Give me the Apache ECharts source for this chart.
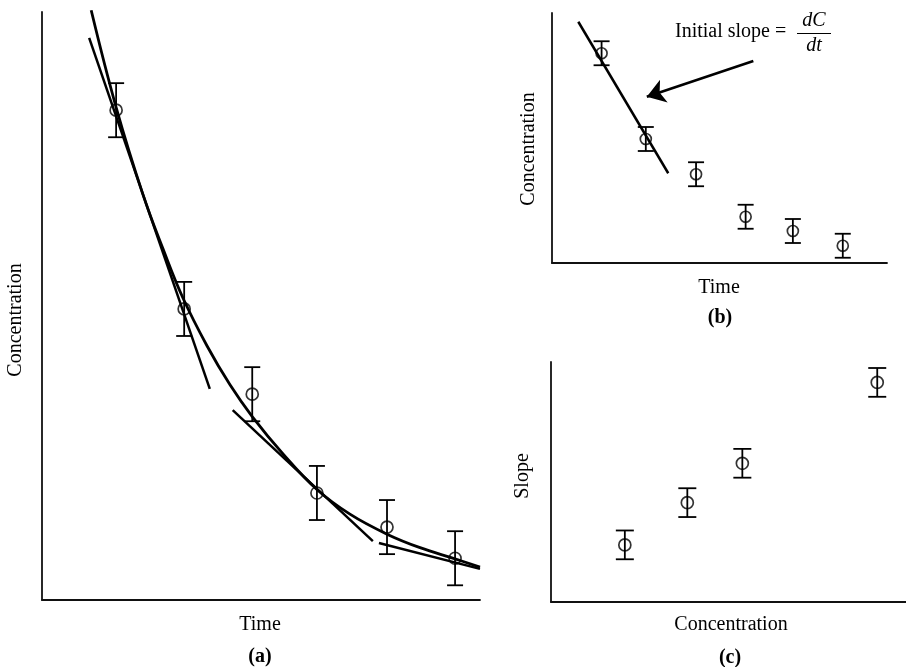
<!DOCTYPE html>
<html>
<head>
<meta charset="utf-8">
<script src="https://cdn.jsdelivr.net/npm/echarts@6/dist/echarts.min.js"></script>
<style>
html,body{margin:0;padding:0;background:#fff;}
#chart{width:906px;height:667px;}
</style>
</head>
<body>
<div id="chart"></div>
<script>
// ---------- Panel (a): concentration vs time with fitted curve and tangents ----------
const timeA = [1.10, 2.11, 3.12, 4.08, 5.12, 6.13];
const concA = [83.3, 49.5, 35.0, 18.2, 12.4, 7.1];
const errA  = [4.6, 4.6, 4.6, 4.6, 4.6, 4.6];

const curveT = [0.73, 1.10, 1.50, 1.80, 2.09, 2.45, 2.79, 3.12, 3.58, 4.08, 4.57, 5.12, 5.61, 6.13, 6.50];
const curveC = [100.3, 83.8, 68.9, 59.6, 51.4, 43.2, 36.6, 31.2, 24.8, 18.8, 14.6, 11.2, 8.9, 7.0, 5.6];

const tan1T = [0.70, 2.49], tan1C = [95.6, 35.9];
const tan2T = [2.83, 4.91], tan2C = [32.3, 10.0];
const tan3T = [5.00, 6.50], tan3C = [9.7, 5.3];

// ---------- Panel (b): initial slope ----------
const timeB = [1.48, 2.80, 4.30, 5.78, 7.19, 8.68];
const concB = [83.9, 49.6, 35.5, 18.5, 12.8, 6.9];
const errB  = [4.8, 4.8, 4.8, 4.8, 4.8, 4.8];
const tanBT = [0.785, 3.47], tanBC = [96.5, 35.9];
const arrowFrom = [6.01, 80.8], arrowTo = [2.83, 66.5];

// ---------- Panel (c): slope vs concentration ----------
const concC  = [2.08, 3.84, 5.39, 9.19];
const slopeC = [23.8, 41.4, 57.8, 91.5];
const errC   = [6.0, 6.0, 6.0, 6.0];

const FONT = 'Liberation Serif, Times New Roman, serif';
const zip = (a, b) => a.map((v, i) => [v, b[i]]);

function errorBarSeries(xi, xs, ys, es, cap) {
  return {
    type: 'custom', xAxisIndex: xi, yAxisIndex: xi, silent: true,
    data: xs.map((x, i) => [x, ys[i] - es[i], ys[i] + es[i]]),
    renderItem: function (params, api) {
      const lo = api.coord([api.value(0), api.value(1)]);
      const hi = api.coord([api.value(0), api.value(2)]);
      const st = { stroke: '#000', lineWidth: 1.8 };
      return { type: 'group', children: [
        { type: 'line', shape: { x1: lo[0], y1: lo[1], x2: hi[0], y2: hi[1] }, style: st },
        { type: 'line', shape: { x1: lo[0] - cap, y1: lo[1], x2: lo[0] + cap, y2: lo[1] }, style: st },
        { type: 'line', shape: { x1: hi[0] - cap, y1: hi[1], x2: hi[0] + cap, y2: hi[1] }, style: st }
      ]};
    }
  };
}
function circles(xi, xs, ys, size) {
  return {
    type: 'scatter', xAxisIndex: xi, yAxisIndex: xi, symbol: 'circle', symbolSize: size,
    data: zip(xs, ys),
    itemStyle: { color: 'rgba(0,0,0,0)', borderColor: '#000', borderWidth: 1.7 }
  };
}
function seg(xi, xs, ys, w, smooth) {
  return {
    type: 'line', xAxisIndex: xi, yAxisIndex: xi, data: zip(xs, ys), showSymbol: false,
    smooth: smooth || false, lineStyle: { color: '#000', width: w }, clip: false
  };
}
const axisCommon = {
  type: 'value', axisTick: { show: false }, axisLabel: { show: false },
  splitLine: { show: false }, axisLine: { show: true, onZero: false, lineStyle: { color: '#111', width: 1.8 } }
};

function txt(x, y, s, opts) {
  opts = opts || {};
  return {
    type: 'text', x: x, y: y, rotation: opts.rot || 0,
    style: { text: s, font: (opts.style || '') + ' ' + (opts.weight || 'normal') + ' ' + (opts.size || 20) + 'px ' + FONT,
      fill: '#000', textAlign: opts.align || 'center', textVerticalAlign: 'middle' }
  };
}

const chart = echarts.init(document.getElementById('chart'), null, { renderer: 'canvas' });
chart.setOption({
  animation: false,
  backgroundColor: '#fff',
  grid: [
    { left: 42, top: 12, width: 438, height: 588 },
    { left: 552, top: 13, width: 335, height: 250 },
    { left: 551, top: 362, width: 355, height: 240 }
  ],
  xAxis: [
    Object.assign({}, axisCommon, { gridIndex: 0, min: 0, max: 6.5 }),
    Object.assign({}, axisCommon, { gridIndex: 1, min: 0, max: 10 }),
    Object.assign({}, axisCommon, { gridIndex: 2, min: 0, max: 10 })
  ],
  yAxis: [
    Object.assign({}, axisCommon, { gridIndex: 0, min: 0, max: 100 }),
    Object.assign({}, axisCommon, { gridIndex: 1, min: 0, max: 100 }),
    Object.assign({}, axisCommon, { gridIndex: 2, min: 0, max: 100 })
  ],
  series: [
    // (a)
    seg(0, curveT, curveC, 2.8, 0.4),
    seg(0, tan1T, tan1C, 2.5),
    seg(0, tan2T, tan2C, 2.5),
    seg(0, tan3T, tan3C, 2.5),
    errorBarSeries(0, timeA, concA, errA, 8),
    circles(0, timeA, concA, 12),
    // (b)
    seg(1, tanBT, tanBC, 2.5),
    errorBarSeries(1, timeB, concB, errB, 8),
    circles(1, timeB, concB, 11),
    {
      type: 'lines', coordinateSystem: 'cartesian2d', xAxisIndex: 1, yAxisIndex: 1,
      data: [{ coords: [arrowFrom, arrowTo] }],
      symbol: ['none', 'arrow'], symbolSize: 18,
      lineStyle: { color: '#000', width: 2.6, opacity: 1 }
    },
    // (c)
    errorBarSeries(2, concC, slopeC, errC, 9),
    circles(2, concC, slopeC, 12)
  ],
  graphic: [
    txt(260, 625, 'Time'),
    txt(260, 657, '(a)', { weight: 'bold' }),
    txt(16, 320, 'Concentration', { rot: Math.PI / 2 }),
    txt(719, 288, 'Time'),
    txt(720, 318, '(b)', { weight: 'bold' }),
    txt(529, 149, 'Concentration', { rot: Math.PI / 2 }),
    txt(731, 625, 'Concentration'),
    txt(730, 658, '(c)', { weight: 'bold' }),
    txt(523, 476, 'Slope', { rot: Math.PI / 2 }),
    txt(675, 32, 'Initial slope =', { align: 'left' }),
    txt(814, 21, 'dC', { style: 'italic' }),
    txt(814, 46, 'dt', { style: 'italic' }),
    { type: 'line', shape: { x1: 797, y1: 33.5, x2: 831, y2: 33.5 }, style: { stroke: '#000', lineWidth: 1.2 } }
  ]
});
</script>
</body>
</html>
